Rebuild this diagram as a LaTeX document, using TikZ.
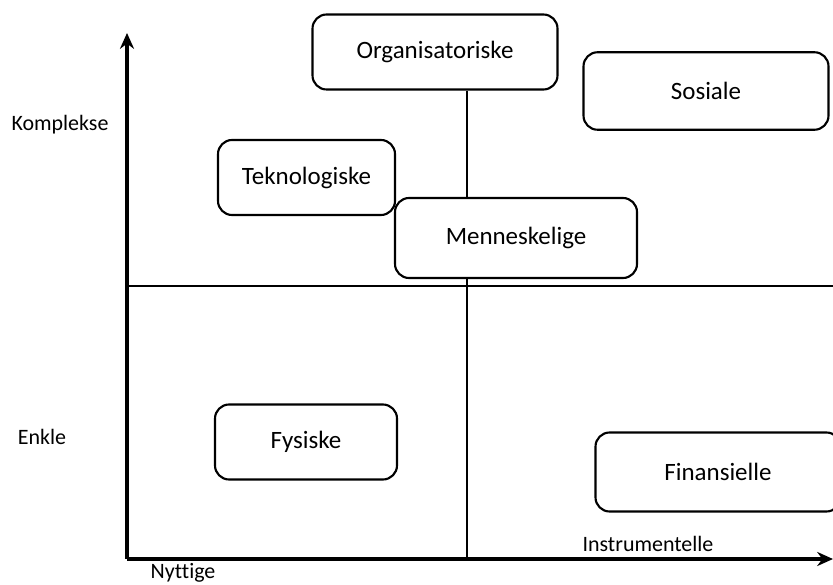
\documentclass[tikz,border=0pt]{standalone}
\usepackage{fontspec}
\setmainfont{Carlito}[Ligatures=NoCommon]
\usepackage{tikz}
\usetikzlibrary{arrows,arrows.meta}
\tikzstyle{rounded box} = [rectangle, rounded corners=8pt, text centered, draw=black, fill=white, line width=1.2pt, font=\fontsize{14.2}{16}\selectfont]
\tikzstyle{axis} = [line width=1.8pt,-{Stealth[length=9pt,width=8pt]}]
\tikzstyle{divider} = [line width=1.3pt]
\tikzstyle{side label} = [font=\fontsize{12.5}{14}\selectfont]

\begin{document}
\begin{tikzpicture}
        \useasboundingbox (0,0) rectangle (16.66,-11.7);

            % axes
            \coordinate (O) at (2.54,-11.18);
            \coordinate (Ytop) at (2.54,-0.66);
            \coordinate (Xend) at (16.66,-11.18);
            \coordinate (Mleft) at (2.54,-5.72);
            \coordinate (Mright) at (16.66,-5.72);
            \coordinate (Vline) at (9.34,0);
            \draw[axis] (O) -- (Ytop);
            \draw[axis] (O) -- (Xend);
            \draw[divider] (Mleft) -- (Mright);

            % boxes
            \node (Org) [rounded box, minimum width=4.9cm, minimum height=1.5cm] at (8.70,-1.04) {Organisatoriske};
            \node (Sos) [rounded box, minimum width=4.9cm, minimum height=1.55cm] at (14.12,-1.82) {Sosiale};
            \node (Tek) [rounded box, minimum width=3.54cm, minimum height=1.5cm] at (6.13,-3.55) {Teknologiske};
            \node (Men) [rounded box, minimum width=4.84cm, minimum height=1.6cm] at (10.32,-4.76) {Menneskelige};
            \node (Fys) [rounded box, minimum width=3.64cm, minimum height=1.5cm] at (6.12,-8.84) {Fysiske};
            \node (Fin) [rounded box, minimum width=4.9cm, minimum height=1.58cm] at (14.36,-9.44) {Finansielle};

            \draw[divider] (Org.south -| Vline) -- (Men.north -| Vline);
            \draw[divider] (Men.south -| Vline) -- (O -| Vline);

            % labels
            \node (Kompl) [side label] at (1.2,-2.5) {Komplekse};
            \node (Enk) [side label] at (0.84,-8.74) {Enkle};
            \node (Nyt) [side label] at (3.66,-11.46) {Nyttige};
            \node (Ins) [side label] at (12.96,-10.88) {Instrumentelle};

    \end{tikzpicture}
\end{document}
